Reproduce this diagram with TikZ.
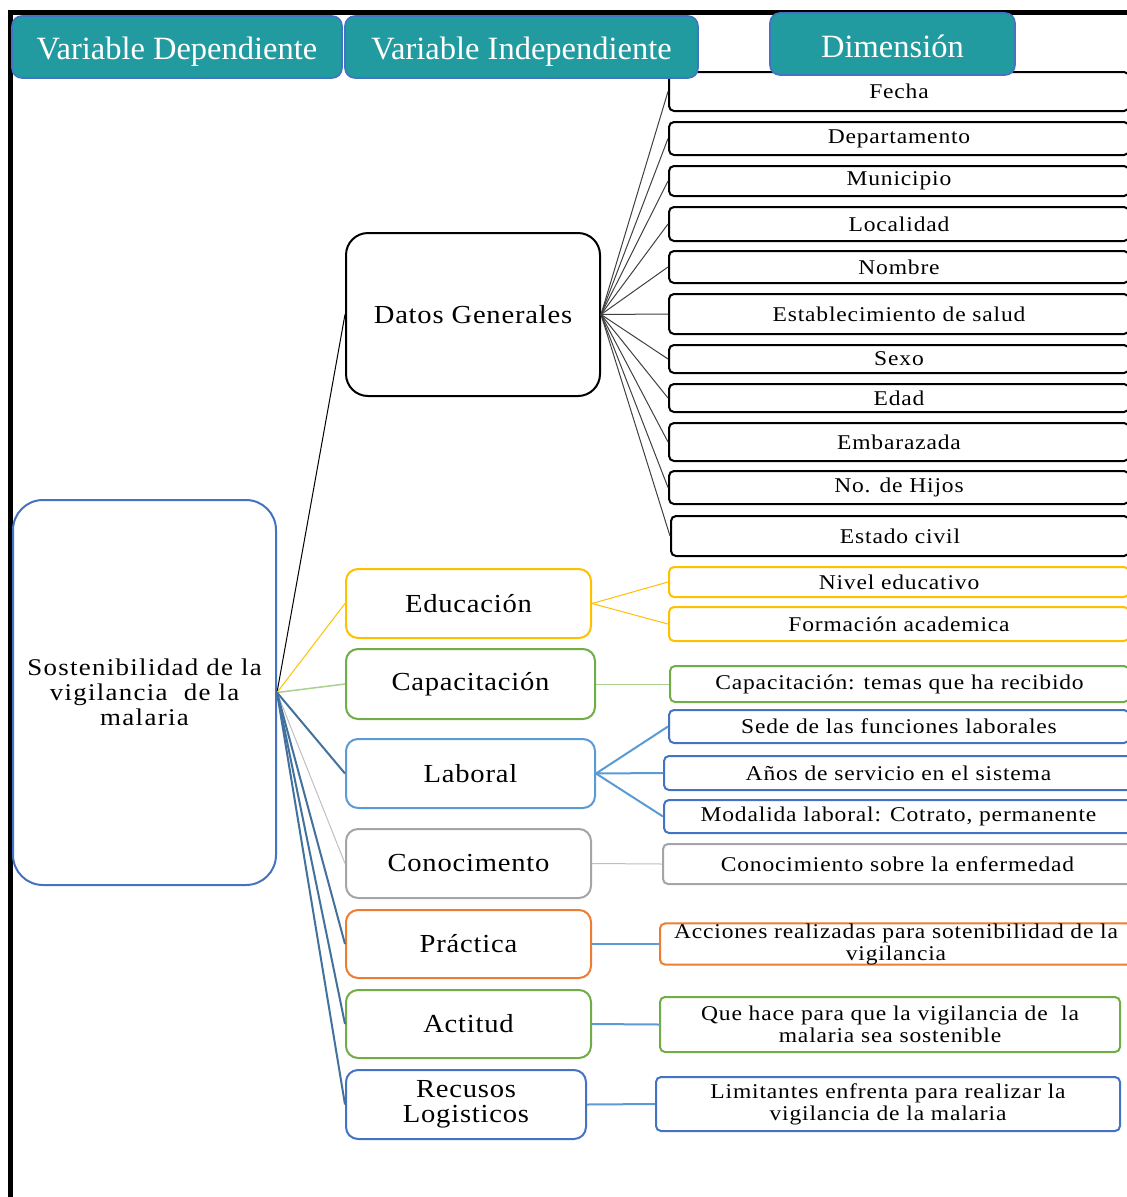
\documentclass[tikz,border=0pt]{standalone}
\usepackage{fontspec}
\setmainfont{Liberation Serif}
\newfontfamily\midf[FakeStretch=1.1,LetterSpace=3]{Liberation Serif}
\newfontfamily\dimf[FakeStretch=1.12,LetterSpace=4]{Liberation Serif}
\newfontfamily\mainf[FakeStretch=1.12,LetterSpace=5.5]{Liberation Serif}
\definecolor{teal1}{RGB}{33,155,160}
\definecolor{hdrB}{HTML}{4472C4}
\definecolor{cYel}{HTML}{FFC000}
\definecolor{cGrn}{HTML}{70AD47}
\definecolor{cLtGrn}{HTML}{A9D18E}
\definecolor{cLBlu}{HTML}{5B9BD5}
\definecolor{cGry}{HTML}{A5A5A5}
\definecolor{cLGry}{HTML}{BFBFBF}
\definecolor{cOrg}{HTML}{ED7D31}
\definecolor{cBlu}{HTML}{4472C4}
\definecolor{cSteel}{HTML}{41719C}
\tikzset{
  hdr/.style={draw=hdrB, fill=teal1, line width=1.6pt, rounded corners=10pt, text=white,
    font=\fontsize{32.5}{34}\selectfont, inner sep=0pt, text height=26pt, text depth=2pt},
  midbox/.style={draw, fill=white, line width=2pt, rounded corners=12pt,
    font=\midf\fontsize{26}{25}\selectfont, inner sep=0pt, align=center},
  dimbox/.style={draw, fill=white, line width=2pt, rounded corners=5pt,
    font=\dimf\fontsize{21}{22}\selectfont, inner sep=0pt, align=center},
  blk/.style={draw=black},
  lnk/.style={line width=1pt},
}
\begin{document}
\begin{tikzpicture}[x=1pt,y=-1pt]
\useasboundingbox (0,0) rectangle (1127,1197);
\clip (0,0) rectangle (1127,1197);
% frame
\draw[line width=5pt] (8,12.5) -- (1135,12.5);
\draw[line width=5pt] (10.5,10) -- (10.5,1205);

% main node
\node[draw=cBlu, fill=white, line width=2pt, rounded corners=30pt, inner sep=0pt,
  minimum width=263pt, minimum height=385pt, align=center,
  font=\mainf\fontsize{24}{25}\selectfont] (main) at (144.5,692.5)
  {Sostenibilidad de la\\vigilancia~~de la\\malaria};

% middle column
\node[midbox, draw=black, rounded corners=22pt, minimum width=254pt, minimum height=163pt] (dg) at (473,314.5) {Datos Generales};
\node[midbox, draw=cYel, minimum width=245pt, minimum height=69pt] (edu) at (468.5,603.5) {Educación};
\node[midbox, draw=cGrn, minimum width=249pt, minimum height=70pt] (cap) at (470.5,684) {Capacitación};
\node[midbox, draw=cLBlu, minimum width=249pt, minimum height=69pt] (lab) at (470.5,773.5) {Laboral};
\node[midbox, draw=cGry, minimum width=245pt, minimum height=69pt] (con) at (468.5,863.5) {Conocimento};
\node[midbox, draw=cOrg, minimum width=245pt, minimum height=68pt] (pra) at (468.5,944) {Práctica};
\node[midbox, draw=cGrn, minimum width=245pt, minimum height=68pt] (act) at (468.5,1024) {Actitud};
\node[midbox, draw=cBlu, minimum width=240pt, minimum height=69pt] (rec) at (466,1104.5) {Recusos\\Logisticos};

% right column: datos generales
\node[dimbox, blk, minimum width=460pt, minimum height=39pt] (d1) at (899,91.5) {Fecha};
\node[dimbox, blk, minimum width=460pt, minimum height=33pt] (d2) at (899,138.5) {Departamento};
\node[dimbox, blk, minimum width=460pt, minimum height=30pt] (d3) at (899,181) {Municipio};
\node[dimbox, blk, minimum width=460pt, minimum height=34pt] (d4) at (899,224) {Localidad};
\node[dimbox, blk, minimum width=460pt, minimum height=32pt] (d5) at (899,267) {Nombre};
\node[dimbox, blk, minimum width=460pt, minimum height=40pt] (d6) at (899,314) {Establecimiento de salud};
\node[dimbox, blk, minimum width=460pt, minimum height=28pt] (d7) at (899,359) {Sexo};
\node[dimbox, blk, minimum width=460pt, minimum height=28pt] (d8) at (899,398) {Edad};
\node[dimbox, blk, minimum width=460pt, minimum height=38pt] (d9) at (899,442) {Embarazada};
\node[dimbox, blk, minimum width=460pt, minimum height=33pt] (d10) at (899,487.5) {No. de Hijos};
\node[dimbox, blk, minimum width=458pt, minimum height=40pt] (d11) at (900,536) {Estado civil};

% right column: others
\node[dimbox, draw=cYel, minimum width=460pt, minimum height=30pt] (e1) at (899,582) {Nivel educativo};
\node[dimbox, draw=cYel, minimum width=460pt, minimum height=34pt] (e2) at (899,624) {Formación academica};
\node[dimbox, draw=cGrn, minimum width=459pt, minimum height=36pt] (c1) at (899.5,684) {Capacitación: temas que ha recibido};
\node[dimbox, draw=cBlu, minimum width=460pt, minimum height=33pt] (l1) at (899,726.5) {Sede de las funciones laborales};
\node[dimbox, draw=cBlu, minimum width=469pt, minimum height=34pt] (l2) at (898.5,773) {Años de servicio en el sistema};
\node[dimbox, draw=cBlu, minimum width=469pt, minimum height=33pt] (l3) at (898.5,816.5) {Modalida laboral: Cotrato, permanente};
\node[dimbox, draw=cGry, minimum width=469pt, minimum height=40pt] (k1) at (897.5,864) {Conocimiento sobre la enfermedad};
\node[dimbox, draw=cOrg, minimum width=472pt, minimum height=40pt] (p1) at (896,944) {Acciones realizadas para sotenibilidad de la\\vigilancia};
\node[dimbox, draw=cGrn, minimum width=460pt, minimum height=55pt] (a1) at (890,1024.5) {Que hace para que la vigilancia de~~la\\malaria sea sostenible};
\node[dimbox, draw=cBlu, minimum width=464pt, minimum height=54pt] (r1) at (888,1104) {Limitantes enfrenta para realizar la\\vigilancia de la malaria};

% headers
\node[hdr, minimum width=330pt, minimum height=62pt] (hvd) at (177,47) {Variable Dependiente};
\node[hdr, minimum width=353pt, minimum height=62pt] (hvi) at (521.5,47) {Variable Independiente};
\node[hdr, minimum width=245pt, minimum height=62pt, text height=28pt] (hdim) at (892.5,44) {Dimensión};

% connectors from main
\draw[lnk, black] (main.east) -- (dg.west);
\draw[lnk, cYel] (main.east) -- (edu.west);
\draw[line width=1.5pt, cLtGrn] (main.east) -- (cap.west);
\draw[line width=2pt, cSteel] (main.east) -- (lab.west);
\draw[lnk, cLGry] (main.east) -- (con.west);
\draw[line width=2pt, cSteel] (main.east) -- (pra.west);
\draw[line width=2pt, cSteel] (main.east) -- (act.west);
\draw[line width=2pt, cSteel] (main.east) -- (rec.west);

% datos generales fan
\foreach \n in {d1,d2,d3,d4,d5,d6,d7,d8,d9,d10,d11}
  \draw[lnk, black!75] (dg.east) -- (\n.west);
\draw[lnk, cYel] (edu.east) -- (e1.west);
\draw[lnk, cYel] (edu.east) -- (e2.west);
\draw[lnk, cLtGrn] (cap.east) -- (c1.west);
\draw[line width=2pt, cLBlu] (lab.east) -- (l1.west);
\draw[line width=2pt, cLBlu] (lab.east) -- (l2.west);
\draw[line width=2pt, cLBlu] (lab.east) -- (l3.west);
\draw[lnk, cLGry] (con.east) -- (k1.west);
\draw[line width=2pt, cLBlu] (pra.east) -- (p1.west);
\draw[line width=2pt, cLBlu] (act.east) -- (a1.west);
\draw[line width=2pt, cLBlu] (rec.east) -- (r1.west);
\end{tikzpicture}
\end{document}
